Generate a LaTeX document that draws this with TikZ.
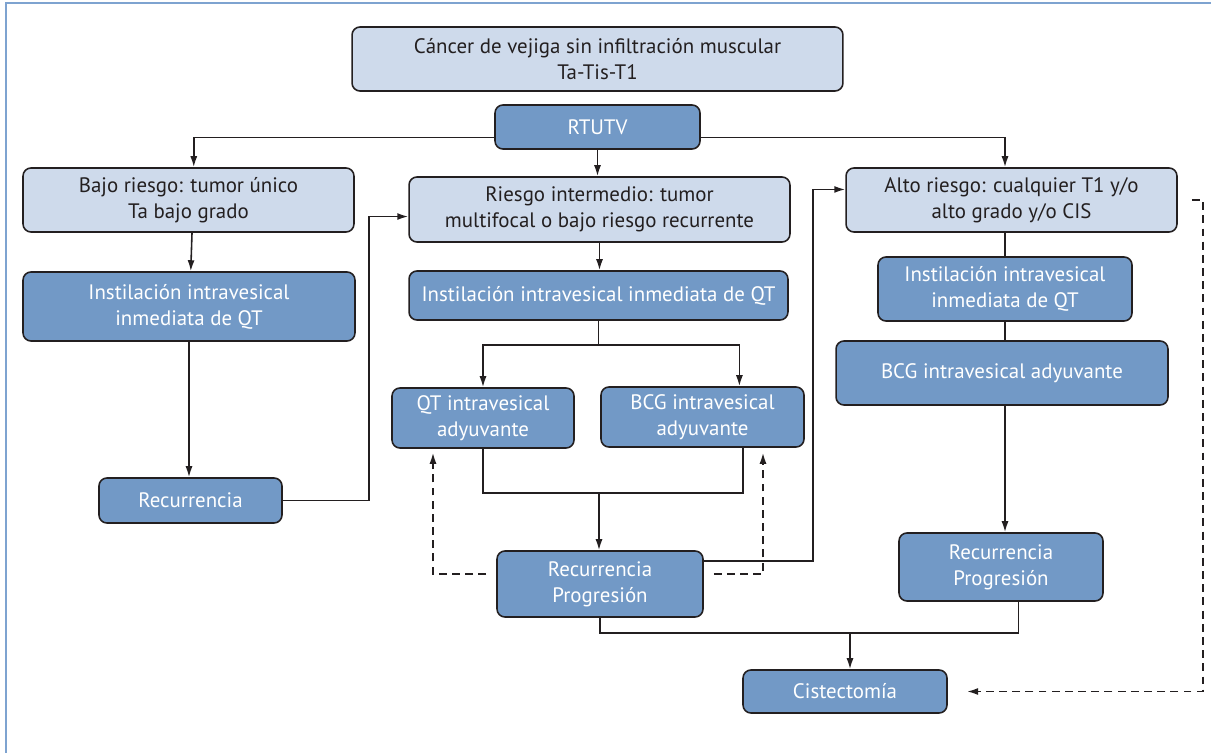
\documentclass[tikz,border=0pt]{standalone}
\usepackage{fontspec}
\setmainfont{PT Sans}
\usetikzlibrary{arrows.meta,positioning}
\definecolor{riskbg}{RGB}{206, 218, 235}
\definecolor{treatbg}{RGB}{114, 153, 198}
\definecolor{darkline}{RGB}{35, 31, 32}
\definecolor{framecol}{RGB}{126, 163, 208}

\begin{document}
\begin{tikzpicture}[
    x=0.02cm, y=-0.02cm,
    >={Latex[length=2.2mm, width=1.4mm]},
    riskbox/.style={draw=darkline, line width=0.9pt, fill=riskbg, text=darkline, rounded corners=4.5pt, align=center, font=\fontsize{11.9}{14.7}\selectfont, inner sep=2pt},
    treatbox/.style={riskbox, fill=treatbg, text=white},
    flow/.style={->, line width=0.9pt, darkline},
    link/.style={line width=0.9pt, darkline},
    retry/.style={->, line width=0.9pt, darkline, dash pattern=on 4.5pt off 3pt}
]

\useasboundingbox (0,0) rectangle (1211,753);

% Frame
\draw[framecol, line width=1.2pt] (6,753) |- (1211,3);

% ==================== ENTRY ====================
\node[riskbox, minimum width=9.82cm, minimum height=1.28cm] (cancer) at (597.5,59) {Cáncer de vejiga sin infiltración muscular\\Ta-Tis-T1};
\node[treatbox, minimum width=4.10cm, minimum height=0.88cm] (rtutv) at (597.5,127) {RTUTV};

% ==================== RISK GROUPS ====================
\node[riskbox, minimum width=6.62cm, minimum height=1.28cm] (bajo) at (188.5,200) {Bajo riesgo: tumor único\\Ta bajo grado};
\node[riskbox, minimum width=7.62cm, minimum height=1.30cm] (inter) at (599.5,209.5) {Riesgo intermedio: tumor\\multifocal o bajo riesgo recurrente};
\node[riskbox, minimum width=6.62cm, minimum height=1.28cm] (alto) at (1011.5,200) {Alto riesgo: cualquier T1 y/o\\alto grado y/o CIS};

% ==================== LOW RISK ====================
\node[treatbox, minimum width=6.64cm, minimum height=1.38cm] (instL) at (189,306.5) {Instilación intravesical\\inmediata de QT};
\node[treatbox, minimum width=3.66cm, minimum height=0.90cm] (recL) at (190.5,500.5) {Recurrencia};

% ==================== INTERMEDIATE RISK ====================
\node[treatbox, minimum width=7.58cm, minimum height=0.98cm] (instM) at (598.5,295.5) {Instilación intravesical inmediata de QT};
\node[treatbox, minimum width=3.64cm, minimum height=1.20cm] (qt) at (483,418) {QT intravesical\\adyuvante};
\node[treatbox, minimum width=4.06cm, minimum height=1.20cm] (bcgM) at (702.5,417) {BCG intravesical\\adyuvante};
\node[treatbox, minimum width=4.12cm, minimum height=1.32cm] (recM) at (600,584) {Recurrencia\\Progresión};

% ==================== HIGH RISK ====================
\node[treatbox, minimum width=5.08cm, minimum height=1.28cm] (instR) at (1005,289) {Instilación intravesical\\inmediata de QT};
\node[treatbox, minimum width=6.64cm, minimum height=1.28cm] (bcgR) at (1002,373) {BCG intravesical adyuvante};
\node[treatbox, minimum width=4.08cm, minimum height=1.36cm] (recR) at (1001,567) {Recurrencia\\Progresión};

\node[treatbox, minimum width=4.08cm, minimum height=0.86cm] (cist) at (845,691.5) {Cistectomía};

% ==================== CONNECTORS ====================

% RTUTV to the three risk groups
\draw[flow] ([yshift=-6]rtutv.west) -| ([xshift=3]bajo.north);
\draw[flow] ([yshift=-6]rtutv.east) -| (instR.north |- alto.north);
\draw[flow] (rtutv.south) -- (rtutv.south |- inter.north);

% Low risk path
\draw[flow] ([xshift=2]bajo.south) -- ([xshift=1]instL.north);
\draw[flow] (instL.south) -- (instL.south |- recL.north);
\draw[flow] (recL.east) -- ++(86,0) |- ([yshift=-4]inter.west);

% Intermediate risk path
\draw[flow] (inter.south) -- (inter.south |- instM.north);
\coordinate (split) at (598.5,345);
\draw[link] (instM.south) -- (split);
\draw[flow] (split) -| (qt.north);
\draw[flow] (split) -| ([xshift=21]bcgM.north);
\coordinate (join) at (599,493);
\draw[link] (qt.south) |- (join) -| ([xshift=23]bcgM.south);
\draw[flow] (join) -- (join |- recM.north);
\draw[retry] ([shift={(-10,-10)}]recM.west) -| ([shift={(-50,4)}]qt.south);
\draw[retry] ([shift={(10,-10)}]recM.east) -| ([shift={(60.5,5)}]bcgM.south);
\draw[flow] ([yshift=13]recM.east) -- ++(109,0) |- ([yshift=6]alto.west);

% High risk path
\draw[link] (instR.north |- alto.south) -- (instR.north);
\draw[link] (instR.south) -- (instR.south |- bcgR.north);
\draw[flow] (instR.south |- bcgR.south) -- (instR.south |- recR.north);
\draw[retry] ([xshift=8]alto.east) -- ++(11,0) |- ([xshift=11]cist.east);

% Progression to cystectomy
\coordinate (merge) at (850,633);
\draw[link] (recM.south) |- (merge) -| ([xshift=10]recR.south);
\draw[flow] (merge) -- (merge |- cist.north);

\end{tikzpicture}
\end{document}
